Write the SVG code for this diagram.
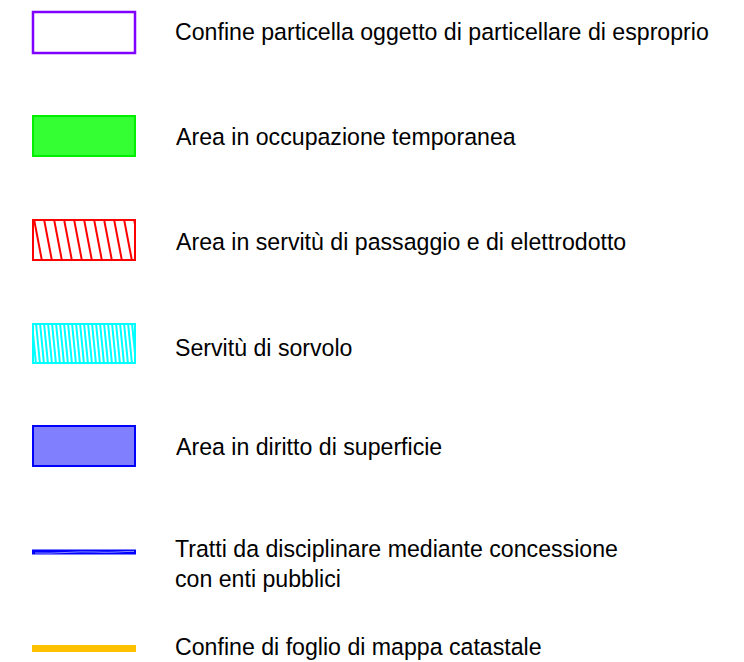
<svg xmlns="http://www.w3.org/2000/svg" width="744" height="662" viewBox="0 0 744 662">
<style>
text{font-family:"Liberation Sans",Arial,sans-serif;font-size:23.15px;fill:#000}
</style>
<defs>
<clipPath id="cr"><rect x="32" y="219" width="104" height="42"/></clipPath>
<clipPath id="cc"><rect x="32" y="323" width="104" height="41"/></clipPath>
</defs>
<rect width="744" height="662" fill="#fff"/>
<g id="legend-confine">
<rect x="33" y="12" width="102" height="41" fill="#fff" stroke="#8000ff" stroke-width="2.5"/>
<text x="175" y="40">Confine particella oggetto di particellare di esproprio</text>
</g>
<g id="legend-occupazione">
<rect x="33" y="116" width="102" height="40" fill="#33ff33" stroke="#00f000" stroke-width="2"/>
<text x="176" y="145">Area in occupazione temporanea</text>
</g>
<g id="legend-servitu-passaggio">
<g clip-path="url(#cr)" stroke="#ff0000" stroke-width="2">
<path d="M24 219L32 261M34 219L42 261M44 219L52 261M54 219L62 261M64 219L72 261M74 219L82 261M84 219L92 261M94 219L102 261M104 219L112 261M114 219L122 261M124 219L132 261M134 219L142 261"/>
</g>
<rect x="33" y="220" width="102" height="40" fill="none" stroke="#ff0000" stroke-width="2"/>
<text x="176" y="250">Area in servitù di passaggio e di elettrodotto</text>
</g>
<g id="legend-sorvolo">
<g clip-path="url(#cc)" stroke="#00ffff" stroke-width="2">
<path d="M28 323L32 364M32 323L36 364M36 323L40 364M40 323L44 364M44 323L48 364M48 323L52 364M52 323L56 364M56 323L60 364M60 323L64 364M64 323L68 364M68 323L72 364M72 323L76 364M76 323L80 364M80 323L84 364M84 323L88 364M88 323L92 364M92 323L96 364M96 323L100 364M100 323L104 364M104 323L108 364M108 323L112 364M112 323L116 364M116 323L120 364M120 323L124 364M124 323L128 364M128 323L132 364M132 323L136 364"/>
</g>
<rect x="33" y="324" width="102" height="39" fill="none" stroke="#00ffff" stroke-width="2"/>
<text x="175" y="356">Servitù di sorvolo</text>
</g>
<g id="legend-superficie">
<rect x="33" y="426" width="102" height="40" fill="#8080ff" stroke="#0000ff" stroke-width="2"/>
<text x="176" y="455">Area in diritto di superficie</text>
</g>
<g id="legend-concessione">
<rect x="32" y="549.5" width="104" height="5" fill="#0000ff"/>
<path d="M35 553C55 554 75 551 95 552S125 551 134 551.5" fill="none" stroke="#fff" stroke-width="0.8" stroke-opacity="0.7"/>
<text x="175" y="557">Tratti da disciplinare mediante concessione</text>
<text x="175" y="587">con enti pubblici</text>
</g>
<g id="legend-foglio">
<rect x="32" y="645" width="104" height="7" fill="#ffc000"/>
<text x="175" y="655">Confine di foglio di mappa catastale</text>
</g>
</svg>
